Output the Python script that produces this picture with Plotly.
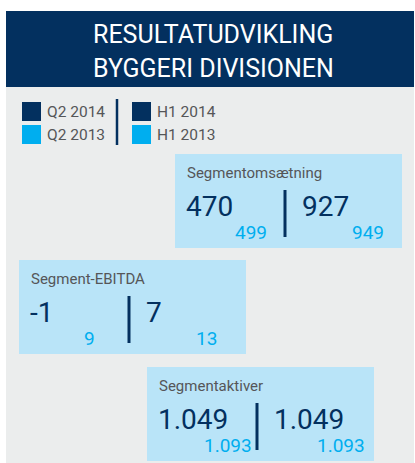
import plotly.graph_objects as go

# ---------------- data ----------------
title_lines = ["RESULTATUDVIKLING", "BYGGERI DIVISIONEN"]
legend_left = ["Q2 2014", "Q2 2013"]
legend_right = ["H1 2014", "H1 2013"]
metrics = ["Segmentomsætning", "Segment-EBITDA", "Segmentaktiver"]
q2_2014 = [470, -1, 1049]
q2_2013 = [499, 9, 1093]
h1_2014 = [927, 7, 1049]
h1_2013 = [949, 13, 1093]

# ---------------- style / layout ----------------
W, H = 415, 463
NAVY = "#03305f"
CYAN = "#00aeef"
BOX = "#b9e4f8"
PANEL = "#ebeded"
GREY = "#555658"
FONT = "Roboto"

box_x0 = [175, 19, 147]
box_y0 = [154, 260, 367]
box_w, box_h = 227, 94
small_left_end = [92, 76, 105]
small_right_end = [209, 198, 218]


def fmt(v):
    return f"{v:,}".replace(",", ".")


fig = go.Figure()
shapes = []
ann = []

# header and panel
shapes.append(dict(type="rect", x0=6, x1=414, y0=11, y1=87, fillcolor=NAVY, line_width=0, layer="below"))
shapes.append(dict(type="rect", x0=6, x1=414, y0=87, y1=H + 2, fillcolor=PANEL, line_width=0, layer="below"))
for i, t in enumerate(title_lines):
    ann.append(dict(x=213, y=34 + i * 34, text=t, showarrow=False, xanchor="center", yanchor="middle",
                    font=dict(family=FONT, size=25, color="white")))

# legend
leg_cols = [(22, legend_left), (132, legend_right)]
for lx, labels in leg_cols:
    for j, lab in enumerate(labels):
        y0 = 102 + j * 23
        shapes.append(dict(type="rect", x0=lx, x1=lx + 19, y0=y0, y1=y0 + 19,
                           fillcolor=NAVY if j == 0 else CYAN, line_width=0))
        ann.append(dict(x=lx + 23, y=y0 + 10, text=lab, showarrow=False, xanchor="left", yanchor="middle",
                        font=dict(family=FONT, size=15.5, color=GREY)))
shapes.append(dict(type="line", x0=117, x1=117, y0=99, y1=145, line=dict(color=NAVY, width=2.5)))

# metric boxes
for k, name in enumerate(metrics):
    bx, by = box_x0[k], box_y0[k]
    shapes.append(dict(type="rect", x0=bx, x1=bx + box_w, y0=by, y1=by + box_h, fillcolor=BOX, line_width=0))
    ann.append(dict(x=bx + 10, y=by + 19, text=name, showarrow=False, xanchor="left", yanchor="middle",
                    font=dict(family=FONT, size=15, color=GREY)))
    ann.append(dict(x=bx + 9, y=by + 52, text=fmt(q2_2014[k]), showarrow=False, xanchor="left", yanchor="middle",
                    font=dict(family=FONT, size=28, color=NAVY)))
    ann.append(dict(x=bx + 125, y=by + 52, text=fmt(h1_2014[k]), showarrow=False, xanchor="left", yanchor="middle",
                    font=dict(family=FONT, size=28, color=NAVY)))
    ann.append(dict(x=bx + small_left_end[k] + 2, y=by + 78, text=fmt(q2_2013[k]), showarrow=False,
                    xanchor="right", yanchor="middle", font=dict(family=FONT, size=19, color=CYAN)))
    ann.append(dict(x=bx + small_right_end[k] + 2, y=by + 78, text=fmt(h1_2013[k]), showarrow=False,
                    xanchor="right", yanchor="middle", font=dict(family=FONT, size=19, color=CYAN)))
    shapes.append(dict(type="line", x0=bx + 110, x1=bx + 110, y0=by + 36, y1=by + 83,
                       line=dict(color=NAVY, width=3)))

fig.update_layout(
    width=W, height=H,
    margin=dict(l=0, r=0, t=0, b=0),
    paper_bgcolor="white", plot_bgcolor="white",
    xaxis=dict(range=[0, W], visible=False, fixedrange=True),
    yaxis=dict(range=[H, 0], visible=False, fixedrange=True),
    shapes=shapes, annotations=ann, showlegend=False,
)
fig.write_html("out.html", config={"displayModeBar": False},
               post_script="document.body.style.margin='0';document.body.style.overflow='hidden';")
